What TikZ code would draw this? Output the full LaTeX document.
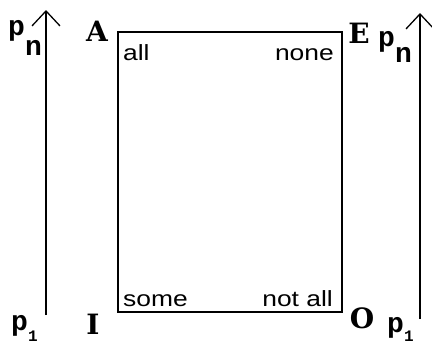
\documentclass[tikz,border=0pt]{standalone}
\usepackage{fontspec}
\setmonofont{Liberation Mono}
\newfontfamily\macfont[FakeStretch=1.2]{Liberation Sans}
\newfontfamily\gruesa{DejaVu Serif}
\usetikzlibrary{arrows.meta}
\begin{document}
\begin{tikzpicture}[x=1pt,y=-1pt,
    flecha/.style={line width=1.5pt, -{Straight Barb[length=15pt,width=28pt,line width=1.3pt]}},
    vertice/.style={font=\gruesa\bfseries\fontsize{28}{28}\selectfont},
    cuant/.style={font=\macfont\fontsize{22}{22}\selectfont, inner sep=0pt},
    prop/.style={font=\ttfamily\bfseries\fontsize{28}{28}\selectfont, inner sep=0pt, anchor=base west}]
        \useasboundingbox (0,0) rectangle (432,346);
        % Coordenadas
        \coordinate (A) at (118,32);
        \coordinate (E) at (342,32);
        \coordinate (O) at (342,312);
        \coordinate (I) at (118,312);
        \coordinate (b1) at (46,315);
        \coordinate (t1) at (46,10);
        \coordinate (b2) at (420,319);
        \coordinate (t2) at (420,13);

        % Cuadrado
        \draw[line width=1.6pt] (A) -- (E) -- (O) -- (I) -- cycle;

        % Flechas
        \draw[flecha] (b1) -- (t1);
        \draw[flecha] (b2) -- (t2);

        % Vertices
        \node[vertice] (lA) at (97,31) {A};
        \node[vertice] (lE) at (359,33) {E};
        \node[vertice] (lI) at (93,324) {I};
        \node[vertice] (lO) at (362,318) {O};

        % Cuantificadores
        \node[cuant, anchor=base west] (all) at (123,60) {all};
        \node[cuant, anchor=base east] (none) at (334,60) {none};
        \node[cuant, anchor=base west] (some) at (123,306) {some};
        \node[cuant, anchor=base east] (notall) at (333,306) {not all};

        % Proposiciones
        \node[prop] (pn1) at (8,35) {p\raisebox{-20pt}{n}};
        \node[prop] (pn2) at (378,46) {p\raisebox{-16pt}{n}};
        \node[prop] (p11) at (11,330) {p\raisebox{-11pt}{\fontsize{16}{16}\selectfont 1}};
        \node[prop] (p12) at (387,332) {p\raisebox{-9pt}{\fontsize{16}{16}\selectfont 1}};
    \end{tikzpicture}
\end{document}
